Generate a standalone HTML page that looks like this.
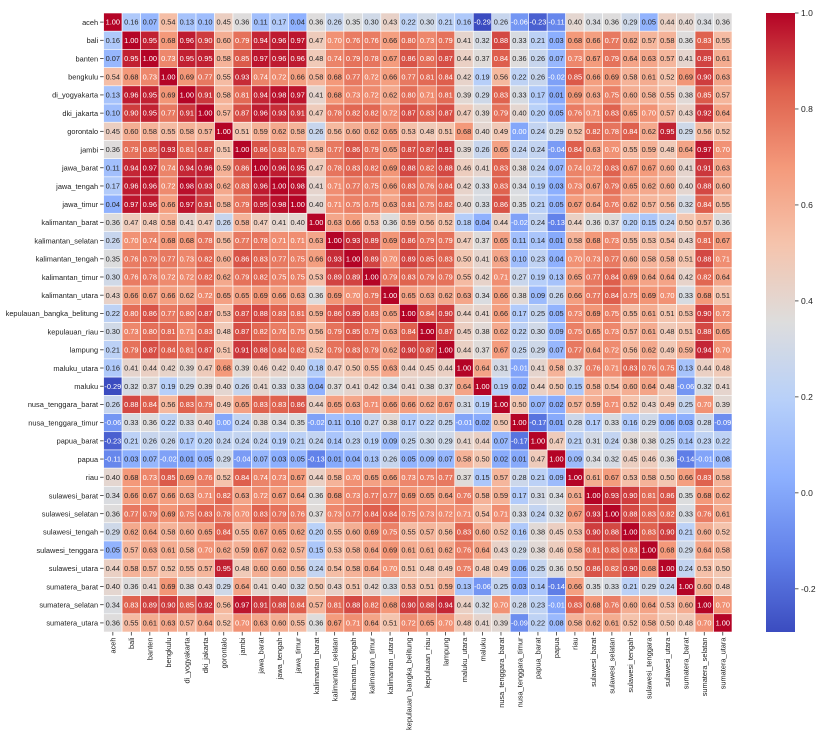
<!DOCTYPE html>
<html><head><meta charset="utf-8">
<style>
html,body{margin:0;padding:0;background:#fff;}
svg{display:block;font-family:"Liberation Sans","DejaVu Sans",sans-serif;}
</style></head>
<body>
<svg id="chart" width="828" height="740" viewBox="0 0 828 740"></svg>
<script>
const labels = ["aceh","bali","banten","bengkulu","di_yogyakarta","dki_jakarta","gorontalo","jambi","jawa_barat","jawa_tengah","jawa_timur","kalimantan_barat","kalimantan_selatan","kalimantan_tengah","kalimantan_timur","kalimantan_utara","kepulauan_bangka_belitung","kepulauan_riau","lampung","maluku_utara","maluku","nusa_tenggara_barat","nusa_tenggara_timur","papua_barat","papua","riau","sulawesi_barat","sulawesi_selatan","sulawesi_tengah","sulawesi_tenggara","sulawesi_utara","sumatera_barat","sumatera_selatan","sumatera_utara"];
// upper triangle rows: row i contains values for columns i..33
const upper = [
[1.00,.16,.07,.54,.13,.10,.45,.36,.11,.17,.04,.36,.26,.35,.30,.43,.22,.30,.21,.16,-.29,.26,-.06,-.23,-.11,.40,.34,.36,.29,.05,.44,.40,.34,.36],
[1.00,.95,.68,.96,.90,.60,.79,.94,.96,.97,.47,.70,.76,.76,.66,.80,.73,.79,.41,.32,.88,.33,.21,.03,.68,.66,.77,.62,.57,.58,.36,.83,.55],
[1.00,.73,.95,.95,.58,.85,.97,.96,.96,.48,.74,.79,.78,.67,.86,.80,.87,.44,.37,.84,.36,.26,.07,.73,.67,.79,.64,.63,.57,.41,.89,.61],
[1.00,.69,.77,.55,.93,.74,.72,.66,.58,.68,.77,.72,.66,.77,.81,.84,.42,.19,.56,.22,.26,-.02,.85,.66,.69,.58,.61,.52,.69,.90,.63],
[1.00,.91,.58,.81,.94,.98,.97,.41,.68,.73,.72,.62,.80,.71,.81,.39,.29,.83,.33,.17,.01,.69,.63,.75,.60,.58,.55,.38,.85,.57],
[1.00,.57,.87,.96,.93,.91,.47,.78,.82,.82,.72,.87,.83,.87,.47,.39,.79,.40,.20,.05,.76,.71,.83,.65,.70,.57,.43,.92,.64],
[1.00,.51,.59,.62,.58,.26,.56,.60,.62,.65,.53,.48,.51,.68,.40,.49,.00,.24,.29,.52,.82,.78,.84,.62,.95,.29,.56,.52],
[1.00,.86,.83,.79,.58,.77,.86,.79,.65,.87,.87,.91,.39,.26,.65,.24,.24,-.04,.84,.63,.70,.55,.59,.48,.64,.97,.70],
[1.00,.96,.95,.47,.78,.83,.82,.69,.88,.82,.88,.46,.41,.83,.38,.24,.07,.74,.72,.83,.67,.67,.60,.41,.91,.63],
[1.00,.98,.41,.71,.77,.75,.66,.83,.76,.84,.42,.33,.83,.34,.19,.03,.73,.67,.79,.65,.62,.60,.40,.88,.60],
[1.00,.40,.71,.75,.75,.63,.81,.75,.82,.40,.33,.86,.35,.21,.05,.67,.64,.76,.62,.57,.56,.32,.84,.55],
[1.00,.63,.66,.53,.36,.59,.56,.52,.18,.04,.44,-.02,.24,-.13,.44,.36,.37,.20,.15,.24,.50,.57,.36],
[1.00,.93,.89,.69,.86,.79,.79,.47,.37,.65,.11,.14,.01,.58,.68,.73,.55,.53,.54,.43,.81,.67],
[1.00,.89,.70,.89,.85,.83,.50,.41,.63,.10,.23,.04,.70,.73,.77,.60,.58,.58,.51,.88,.71],
[1.00,.79,.83,.79,.79,.55,.42,.71,.27,.19,.13,.65,.77,.84,.69,.64,.64,.42,.82,.64],
[1.00,.65,.63,.62,.63,.34,.66,.38,.09,.26,.66,.77,.84,.75,.69,.70,.33,.68,.51],
[1.00,.84,.90,.44,.41,.66,.17,.25,.05,.73,.69,.75,.55,.61,.51,.53,.90,.72],
[1.00,.87,.45,.38,.62,.22,.30,.09,.75,.65,.73,.57,.61,.48,.51,.88,.65],
[1.00,.44,.37,.67,.25,.29,.07,.77,.64,.72,.56,.62,.49,.59,.94,.70],
[1.00,.64,.31,-.01,.41,.58,.37,.76,.71,.83,.76,.75,.13,.44,.48],
[1.00,.19,.02,.44,.50,.15,.58,.54,.60,.64,.48,-.06,.32,.41],
[1.00,.50,.07,.02,.57,.59,.71,.52,.43,.49,.25,.70,.39],
[1.00,-.17,.01,.28,.17,.33,.16,.29,.06,.03,.28,-.09],
[1.00,.47,.21,.31,.24,.38,.38,.25,.14,.23,.22],
[1.00,.09,.34,.32,.45,.46,.36,-.14,-.01,.08],
[1.00,.61,.67,.53,.58,.50,.66,.83,.58],
[1.00,.93,.90,.81,.86,.35,.68,.62],
[1.00,.88,.83,.82,.33,.76,.61],
[1.00,.83,.90,.21,.60,.52],
[1.00,.68,.29,.64,.58],
[1.00,.24,.53,.50],
[1.00,.60,.48],
[1.00,.70],
[1.00]
];
const colorbarTicks = [1.0,0.8,0.6,0.4,0.2,0.0,-0.2];
const vmin = -0.29, vmax = 1.0;

const NS="http://www.w3.org/2000/svg";
const svg=document.getElementById('chart');
const n=labels.length;
const X0=103.6, X1=732, Y0=13, Y1=632;
const cw=(X1-X0)/n, ch=(Y1-Y0)/n;
const xPos=i=>X0+i*cw, yPos=i=>Y0+i*ch;
const cmapStops=[[0,59,76,192],[.125,98,130,234],[.25,141,176,254],[.375,184,208,249],[.5,221,221,221],[.625,245,196,173],[.75,244,154,123],[.875,222,96,77],[1,180,4,38]];
function cmap(v){
  let t=(v-vmin)/(vmax-vmin); t=Math.max(0,Math.min(1,t));
  for(let k=1;k<cmapStops.length;k++){
    if(t<=cmapStops[k][0]){
      const a=cmapStops[k-1],b=cmapStops[k],f=(t-a[0])/(b[0]-a[0]);
      return [0,1,2].map(j=>Math.round(a[j+1]+(b[j+1]-a[j+1])*f));
    }
  }
  return [180,4,38];
}
function lum(c){const l=c.map(x=>{x/=255;return x<=0.03928?x/12.92:Math.pow((x+0.055)/1.055,2.4)});return .2126*l[0]+.7152*l[1]+.0722*l[2];}
function mk(tag,attrs,parent){const e=document.createElementNS(NS,tag);for(const k in attrs)e.setAttribute(k,attrs[k]);(parent||svg).appendChild(e);return e;}

const M=[];for(let i=0;i<n;i++)M.push(new Array(n));
for(let i=0;i<n;i++)for(let j=i;j<n;j++){M[i][j]=upper[i][j-i];M[j][i]=upper[i][j-i];}

const g=mk('g',{});


for(let i=0;i<n;i++)for(let j=0;j<n;j++){
  const v=M[i][j], c=cmap(v);
  const r=mk('rect',{x:xPos(j),y:yPos(i),width:cw,height:ch,fill:`rgb(${c})`,stroke:'#fff','stroke-width':0.6},g);
  
  
  const t=mk('text',{x:xPos(j)+cw/2,y:yPos(i)+ch/2+2.6,'text-anchor':'middle','font-size':7.4,fill:lum(c)<0.408?'#fff':'#262626'},g);
  
  
  t.textContent=v.toFixed(2);
}
for(let i=0;i<n;i++){
  const y=yPos(i)+ch/2;
  mk('line',{x1:X0-3.5,x2:X0,y1:y,y2:y,stroke:'#333','stroke-width':0.8});
  const t=mk('text',{x:X0-5.5,y:y+2.8,'text-anchor':'end','font-size':7.4,fill:'#222'});
  
  
  t.textContent=labels[i];
}
for(let j=0;j<n;j++){
  const x=xPos(j)+cw/2;
  mk('line',{x1:x,x2:x,y1:Y1,y2:Y1+3.5,stroke:'#333','stroke-width':0.8});
  const t=mk('text',{x:x+2.8,y:Y1+5.5,'text-anchor':'end','font-size':7.4,fill:'#222',transform:`rotate(-90 ${x+2.8} ${Y1+5.5})`});
  
  
  t.textContent=labels[j];
}
const CB0=766, CB1=795;
const defs=mk('defs',{});
const grad=mk('linearGradient',{id:'cbg',x1:0,y1:1,x2:0,y2:0},defs);
for(let k=0;k<=40;k++){const v=vmin+(vmax-vmin)*k/40;const c=cmap(v);mk('stop',{offset:k/40,'stop-color':`rgb(${c})`},grad);}
const cb=mk('rect',{x:CB0,y:Y0,width:CB1-CB0,height:Y1-Y0,fill:'url(#cbg)'});


const cbY=v=>Y0+(vmax-v)/(vmax-vmin)*(Y1-Y0);
colorbarTicks.forEach(v=>{
  const y=cbY(v);
  mk('line',{x1:CB1,x2:CB1+3.5,y1:y,y2:y,stroke:'#333','stroke-width':0.8});
  const t=mk('text',{x:CB1+6,y:y+3,'font-size':8.5,fill:'#222'});
  
  
  t.textContent=v.toFixed(1);
});
</script>
</body></html>
